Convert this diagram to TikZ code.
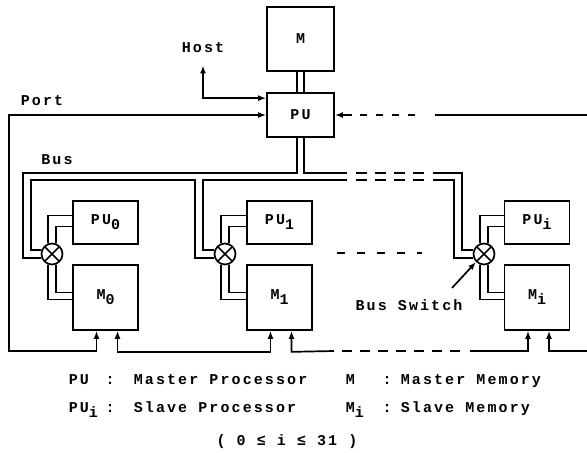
\documentclass[tikz,border=0pt]{standalone}
\usepackage{fontspec}
\setmonofont{Liberation Mono}[LetterSpace=14]
\usetikzlibrary{arrows.meta, positioning, calc}

\newcommand{\lowidx}[1]{\raisebox{-2.5pt}{#1}}

\begin{document}
\begin{tikzpicture}[x=0.5pt, y=-0.5pt, line width=0.85pt,
  font=\ttfamily\bfseries\fontsize{7.5}{8}\selectfont,
  >={Latex[length=4pt,width=3pt]},
  box/.style={draw, inner sep=0pt},
  slavepu/.style={box, minimum width=32.5pt, minimum height=21.5pt},
  slavemem/.style={box, minimum width=32.5pt, minimum height=32.5pt},
  busswitch/.style={circle, draw, inner sep=0pt, minimum size=10.5pt,
    path picture={\draw (path picture bounding box.north west) -- (path picture bounding box.south east)
                        (path picture bounding box.north east) -- (path picture bounding box.south west);}},
  lbl/.style={inner sep=0pt, anchor=base},
  busdash/.style={dash pattern=on 5.5pt off 4pt},
  ringdash/.style={dash pattern=on 5pt off 4pt}]
  \useasboundingbox (0,0) rectangle (587,453);

  % Master memory and processor
  \node[box, minimum width=33.5pt, minimum height=32pt] (M) at (300.5,39) {M};
  \node[box, minimum width=33.5pt, minimum height=22pt] (PU) at (300.5,115) {PU};
  \draw ($(M.south)+(-3.5,0)$) -- ($(PU.north)+(-3.5,0)$);
  \draw ($(M.south)+(3.5,0)$) -- ($(PU.north)+(3.5,0)$);

  % Host
  \node[lbl] (host) at (203,52.5) {Host};
  \draw[<->] ($(host.south)+(0,12)$) |- ($(PU.north west)+(0,6)$);

  % Slaves
  \node[slavepu] (PU0) at (105.5,222.5) {PU\lowidx{0}};
  \node[slavemem] (M0) at (105.5,297.5) {M\lowidx{0}};
  \node[slavepu] (PU1) at (279.5,222.5) {PU\lowidx{1}};
  \node[slavemem] (M1) at (279.5,297.5) {M\lowidx{1}};
  \node[slavepu] (PUi) at (537,222.5) {PU\lowidx{i}};
  \node[slavemem] (Mi) at (537,297.5) {M\lowidx{i}};
  \draw[dash pattern=on 4pt off 6pt] (337,253) -- (422,253);

  % Bus switches
  \node[busswitch] (sw0) at (52,254) {};
  \node[busswitch] (sw1) at (225,254) {};
  \node[busswitch] (swi) at (484,254) {};
  \draw (sw0.112) |- ($(PU0.west)+(0,-7)$);
  \draw (sw0.68) |- ($(PU0.west)+(0,4)$);
  \draw (sw0.248) |- ($(M0.west)+(0,2)$);
  \draw (sw0.292) |- ($(M0.west)+(0,-5)$);
  \draw (sw1.112) |- ($(PU1.west)+(0,-7)$);
  \draw (sw1.68) |- ($(PU1.west)+(0,4)$);
  \draw (sw1.248) |- ($(M1.west)+(0,2)$);
  \draw (sw1.292) |- ($(M1.west)+(0,-5)$);
  \draw (swi.112) |- ($(PUi.west)+(0,-7)$);
  \draw (swi.68) |- ($(PUi.west)+(0,4)$);
  \draw (swi.248) |- ($(Mi.west)+(0,2)$);
  \draw (swi.292) |- ($(Mi.west)+(0,-5)$);
  \node[lbl] (bslabel) at (409,310.5) {Bus Switch};
  \coordinate (bstail) at (452,288);
  \draw[->] (bstail) -- (swi.225);

  % Bus
  \node[lbl] (bus) at (57,164.5) {Bus};
  \draw ($(PU.south)+(-3.5,0)$) |- (23,173) |- (sw0.200);
  \draw (sw0.160) -| (31,180) -- (195,180) |- (sw1.200);
  \draw (sw1.160) -| (203,180) -- (347,180);
  \draw ($(PU.south)+(3.5,0)$) |- (347,173);
  \draw[busdash] (356,173) -- (427,173) (356,180) -- (427,180);
  \draw (433,173) -- (462,173) |- (swi.160);
  \draw (433,180) -- (454,180) |- (swi.200);

  % Port ring
  \node[lbl] (port) at (42,105.5) {Port};
  \draw[<->] (PU.west) -| (9,351) -| ($(M0.south)+(-9,0)$);
  \draw[<->] ($(M0.south)+(12,0)$) -- ++(0,21) -| ($(M1.south)+(-9,0)$);
  \draw[<-] ($(M1.south)+(12,0)$) -- ++(0,21) -- (334,351);
  \draw[ringdash] (342,351) -- (466,351);
  \draw[->] (470,351) -| ($(Mi.south)+(-9,0)$);
  \draw[<-] ($(Mi.south)+(12,0)$) |- (587,351);
  \draw[->] (352,115) -- (PU.east);
  \draw[dash pattern=on 3.5pt off 4.5pt] (360,115) -- (422,115);
  \draw (435,115) -- (587,115);

  % Legend
  \node[lbl, anchor=base west] (kPU) at (68,384.5) {PU};
  \node[lbl] (kPUc) at (110,384.5) {:};
  \node[lbl, anchor=base west] (kPUt) at (133,384.5) {Master Processor};
  \node[lbl, anchor=base west] (kM) at (345,384.5) {M};
  \node[lbl] (kMc) at (387,384.5) {:};
  \node[lbl, anchor=base west] (kMt) at (400,384.5) {Master Memory};
  \node[lbl, anchor=base west] (kPUi) at (68,412.5) {PU\lowidx{i}};
  \node[lbl] (kPUic) at (110,412.5) {:};
  \node[lbl, anchor=base west] (kPUit) at (133,412.5) {Slave Processor};
  \node[lbl, anchor=base west] (kMi) at (345,412.5) {M\lowidx{i}};
  \node[lbl] (kMic) at (387,412.5) {:};
  \node[lbl, anchor=base west] (kMit) at (400,412.5) {Slave Memory};
  \node[lbl] (krange) at (287,445.5) {( 0 ≤ i ≤ 31 )};
\end{tikzpicture}
\end{document}
